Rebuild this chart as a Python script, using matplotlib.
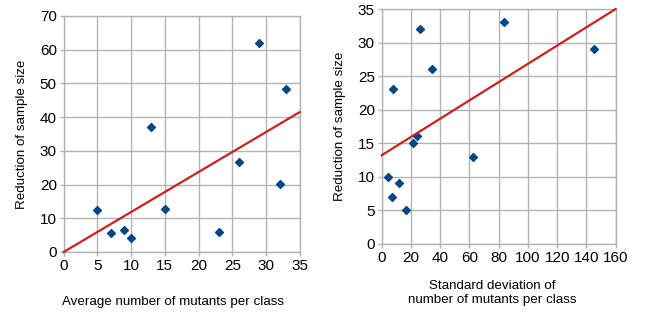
import matplotlib
matplotlib.use('Agg')
import matplotlib.pyplot as plt
import numpy as np

# left panel data
avg_mutants = [5, 7, 9, 10, 13, 15, 23, 26, 29, 32, 33]
reduction_left = [12.5, 5.5, 6.5, 4.0, 37.0, 12.7, 6.0, 26.7, 62.0, 20.2, 48.3]
left_trend_x = [0, 35]
left_trend_y = [0, 41.5]

# right panel data
sd_mutants = [4.1, 7.1, 7.7, 11.9, 16.4, 21.2, 23.9, 26.4, 34.2, 62.7, 83.4, 145.4]
reduction_right = [10, 7, 23, 9, 5, 15, 16, 32, 26, 13, 33, 29]
right_trend_x = [0, 160]
right_trend_y = [13.2, 35.0]

plt.rcParams['font.family'] = ['Liberation Sans', 'DejaVu Sans']

grid_c = '#b3b3b3'
pt_c = '#004586'
line_c = '#c9211e'

fig = plt.figure(figsize=(6.46, 3.13), dpi=100)
ax1 = fig.add_axes([0.0986, 0.195, 0.3654, 0.754])
ax2 = fig.add_axes([0.591, 0.2214, 0.362, 0.7498])


def style(ax, xmax, xstep, ymax, ystep):
    ax.set_xlim(0, xmax)
    ax.set_ylim(0, ymax)
    ax.set_xticks(np.arange(0, xmax + 1, xstep))
    ax.set_yticks(np.arange(0, ymax + 1, ystep))
    ax.grid(True, color=grid_c, linewidth=1)
    ax.set_axisbelow(True)
    for s in ax.spines.values():
        s.set_color(grid_c)
        s.set_linewidth(1)
    ax.tick_params(colors=grid_c, labelcolor='black', labelsize=11,
                   length=3, width=1, pad=2)


ax1.scatter(avg_mutants, reduction_left, marker='D', s=16, color=pt_c, zorder=3)
ax1.plot(left_trend_x, left_trend_y, color=line_c, linewidth=1.6, zorder=4,
         clip_on=False)
style(ax1, 35, 5, 70, 10)
ax1.set_xlabel('Average number of mutants per class', fontsize=9.6)
ax1.set_ylabel('Reduction of sample size', fontsize=9.6)
ax1.xaxis.set_label_coords(0.465, -0.185)
ax1.yaxis.set_label_coords(-0.15, 0.5)

ax2.scatter(sd_mutants, reduction_right, marker='D', s=16, color=pt_c, zorder=3)
ax2.plot(right_trend_x, right_trend_y, color=line_c, linewidth=1.6, zorder=4,
         clip_on=False)
style(ax2, 160, 20, 35, 5)
ax2.set_xlabel('Standard deviation of\nnumber of mutants per class', fontsize=9.6)
ax2.set_ylabel('Reduction of sample size', fontsize=9.6)
ax2.xaxis.set_label_coords(0.474, -0.155)
ax2.yaxis.set_label_coords(-0.155, 0.5)

fig.savefig('out.png', dpi=100)
